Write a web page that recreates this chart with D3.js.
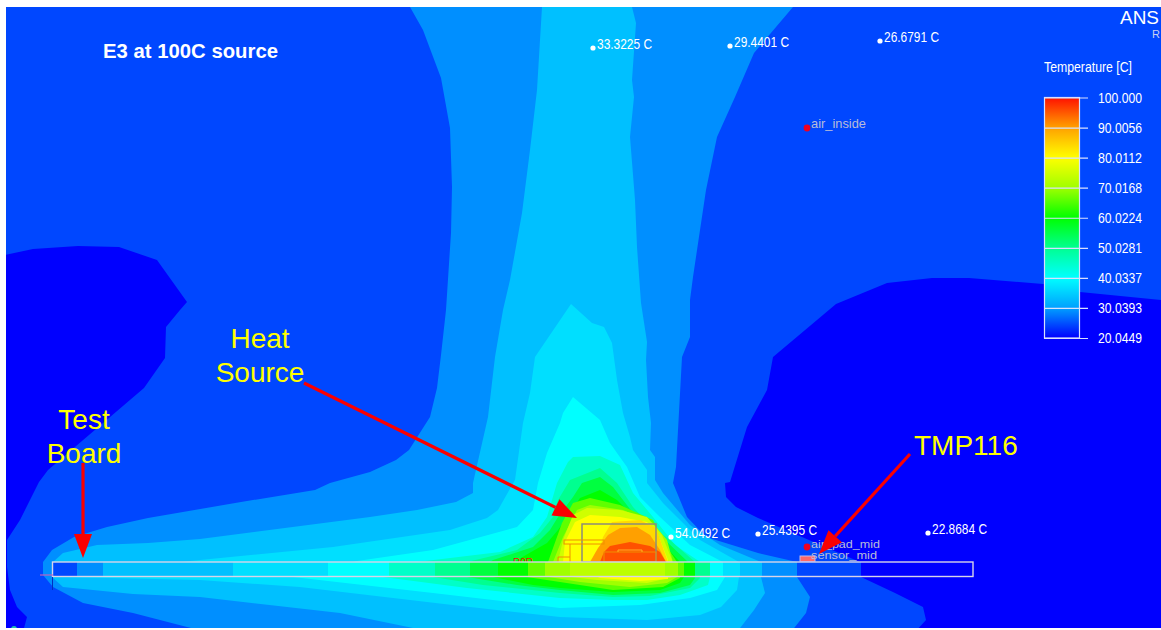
<!DOCTYPE html>
<html>
<head>
<meta charset="utf-8">
<script src="https://cdn.jsdelivr.net/npm/d3@7"></script>
<style>
  html, body { margin: 0; padding: 0; background: #fff; }
  svg { display: block; font-family: "Liberation Sans", Arial, sans-serif; }
</style>
</head>
<body>
<div id="chart"></div>
<script>
// legend
var legendValues = [100, 90.0056, 80.0112, 70.0168, 60.0224, 50.0281, 40.0337, 30.0393, 20.0449];
var legendLabels = ["100.000", "90.0056", "80.0112", "70.0168", "60.0224", "50.0281", "40.0337", "30.0393", "20.0449"];
var legendColours = ["#ff1000", "#ffa000", "#ffff00", "#a0ff00", "#00ff00", "#00ff90", "#00ffff", "#00a0ff", "#0000ff"];

// temperature of each filled contour, coldest first (the field is 20.0449 underneath)
var isoLevels = [24.5, 29, 33.4, 36.7, 40, 45, 50, 55.6, 60, 66, 70, 75, 80, 84, 90, 95.5];

// contour outlines, in section-plane units
var iso245 = [[0,0],[1161,0],[1161,300],[1080,292],[1043,284],[969,278],[932,278],[887,283],[836,304],[817,320],[773,357],[767,390],[747,427],[730,482],[725,483],[726,497],[736,507],[758,518],[802,537],[839,553],[860,562],[861,577],[895,593],[923,607],[926,620],[915,632],[23,632],[27,617],[17,607],[10,590],[7,567],[7,540],[20,520],[39,482],[48,470],[144,388],[165,358],[166,327],[180,310],[187,302],[157,260],[119,247],[78,246],[33,249],[0,256]];
var iso29 = [[408,0],[410,7],[423,30],[441,78],[450,128],[452,187],[451,233],[446,310],[441,355],[437,388],[430,417],[409,450],[396,460],[370,472],[330,483],[315,490],[241,502],[148,518],[107,527],[74,537],[52,550],[43,562],[43,575],[53,587],[83,603],[133,613],[187,627],[207,632],[791,632],[806,613],[810,597],[797,577],[797,562],[758,553],[706,537],[687,517],[673,483],[676,467],[682,357],[690,337],[690,300],[693,277],[706,190],[717,137],[735,97],[754,53],[793,7],[800,0]];
var iso334 = [[543,0],[542,7],[537,90],[530,150],[522,213],[510,280],[503,310],[495,357],[488,417],[473,483],[473,493],[456,502],[417,510],[370,517],[200,539],[148,543],[97,545],[63,553],[53,562],[52,577],[63,587],[133,594],[200,597],[340,613],[413,628],[440,632],[737,632],[754,610],[765,593],[761,577],[761,562],[720,545],[690,525],[663,493],[655,480],[655,457],[650,450],[651,423],[648,397],[646,360],[647,342],[641,303],[637,247],[635,200],[630,137],[634,97],[632,80],[636,23],[632,7],[632,0]];
var iso367 = [[571,304],[592,323],[604,327],[612,343],[617,380],[623,413],[630,437],[633,450],[647,470],[647,483],[663,503],[677,517],[700,540],[739,562],[739,577],[737,590],[721,607],[700,615],[647,620],[560,617],[444,604],[300,587],[200,580],[67,577],[190,561],[333,547],[450,530],[487,518],[498,510],[515,480],[523,423],[530,393],[535,357]];
var iso40 = [[573,397],[600,420],[610,443],[617,453],[627,467],[640,497],[660,517],[690,545],[723,562],[725,577],[717,590],[690,598],[640,605],[560,608],[433,593],[293,577],[357,561],[433,550],[517,527],[533,510],[538,483],[547,453],[560,423],[563,413]];
var iso45 = [[573,457],[600,456],[620,465],[633,493],[653,517],[675,545],[700,562],[710,577],[708,585],[680,595],[647,600],[613,600],[560,598],[467,588],[383,577],[417,562],[500,552],[533,537],[547,517],[557,483],[568,462]];
var iso50 = [[600,468],[617,483],[633,507],[650,525],[670,540],[695,562],[700,578],[690,588],[650,596],[613,597],[560,593],[483,585],[433,577],[467,562],[517,550],[540,533],[553,517],[558,500],[570,480]];
var iso556 = [[600,477],[613,487],[633,513],[640,520],[665,540],[688,562],[695,578],[690,585],[660,593],[613,595],[560,590],[517,585],[467,577],[493,560],[533,547],[550,530],[558,517],[573,497],[582,483]];
var iso60 = [[600,490],[617,500],[630,513],[655,535],[680,562],[684,577],[680,583],[660,590],[613,592],[560,588],[533,585],[493,577],[517,560],[547,543],[558,530],[565,520],[580,498]];
var iso66 = [[590,498],[620,505],[653,520],[667,547],[677,562],[680,578],[663,587],[613,590],[560,582],[527,577],[548,562],[562,523],[573,503]];
var iso70 = [[590,505],[623,510],[653,523],[667,540],[673,562],[677,577],[667,583],[630,587],[580,582],[543,576],[553,562],[563,537],[577,510]];
var iso75 = [[587,508],[620,510],[647,517],[662,535],[672,560],[673,577],[647,583],[597,580],[563,576],[558,562],[563,540],[573,515]];
var iso80 = [[590,515],[620,517],[647,522],[657,532],[668,560],[668,579],[640,581],[600,578],[563,562],[565,542],[575,522]];
var iso84 = [[612,522],[640,520],[656,528],[668,562],[596,562],[603,537]];
var iso90 = [[590,562],[598,548],[608,535],[620,528],[637,527],[650,535],[660,550],[666,562]];
var iso955 = [[600,562],[604,552],[610,546],[630,542],[650,546],[660,552],[666,562]];
var isotherms = [iso245, iso29, iso334, iso367, iso40, iso45, iso50, iso556, iso60, iso66, iso70, iso75, iso80, iso84, iso90, iso955];

// test board, cut into the temperature steps seen along it
var boardEdges = [52,77,103,233,328,389,435,470,498,528,545,570,665,678,684,695,710,723,740,762,797,861,973];
var boardTemps = [24.5,29,33.4,36.7,40,45,50,55.6,60,66,70,73,70,66,60,50,40,36.7,33.4,29,24.5,20.0449];

// monitor points
var probeX = [593, 730, 880, 671, 758, 928];
var probeY = [48, 46, 41, 537, 534, 533];
var probeLabels = ["33.3225 C", "29.4401 C", "26.6791 C", "54.0492 C", "25.4395 C", "22.8684 C"];
var monitorX = [807, 807];
var monitorY = [128, 547];

// hand-drawn callouts
var arrowFrom = [[304,383], [83,463], [910,454]];
var arrowTo = [[577,518], [83,558], [819,554]];

var width = 1161, height = 630;

var x = d3.scaleLinear().domain([0, 1161]).range([0, width]);
var y = d3.scaleLinear().domain([0, 630]).range([0, height]);
var colour = d3.scaleLinear().domain(legendValues).range(legendColours);

var svg = d3.select("#chart").append("svg")
  .attr("width", width)
  .attr("height", height);

svg.append("clipPath").attr("id", "frame")
  .append("rect")
  .attr("x", 6).attr("y", 7).attr("width", width - 6).attr("height", 621);

var g = svg.append("g").attr("clip-path", "url(#frame)");

g.append("rect")
  .attr("width", width).attr("height", height)
  .attr("fill", colour(20.0449));

var outline = d3.line()
  .x(function(d) { return x(d[0]); })
  .y(function(d) { return y(d[1]); });

g.selectAll(null)
  .data(isotherms)
  .enter().append("path")
  .attr("d", function(d) { return outline(d) + "Z"; })
  .attr("fill", function(d, i) { return colour(isoLevels[i]); });

// parts above the board
g.append("text").attr("x", 513).attr("y", 566)
  .attr("font-size", 10).attr("fill", "#f01000").text("R0R");

g.append("rect")
  .attr("x", x(582)).attr("y", y(524)).attr("width", x(74)).attr("height", y(38))
  .attr("fill", "none").attr("stroke", "#8c8c78").attr("stroke-width", 1.5);

var parts = g.append("g").attr("fill", "none").attr("stroke", "#f09000").attr("stroke-width", 1);
parts.append("rect").attr("x", 564).attr("y", 540).attr("width", 40).attr("height", 4);
parts.append("path").attr("d", "M570,544V557H558V562M570,557V562");
parts.append("rect").attr("x", 604).attr("y", 552).attr("width", 52).attr("height", 10);
parts.append("path").attr("d", "M618,552V550H642V552").attr("stroke", "#ffb020");

// board
g.selectAll(null)
  .data(boardTemps)
  .enter().append("rect")
  .attr("x", function(d, i) { return x(boardEdges[i]); })
  .attr("y", y(562))
  .attr("width", function(d, i) { return x(boardEdges[i + 1]) - x(boardEdges[i]); })
  .attr("height", y(15))
  .attr("fill", function(d) { return colour(d); });

g.append("rect")
  .attr("x", x(52.5)).attr("y", y(562)).attr("width", x(920.5)).attr("height", y(14.5))
  .attr("fill", "none").attr("stroke", "#d8d4e8").attr("stroke-width", 1.4);

g.append("line").attr("x1", 40).attr("x2", 53).attr("y1", 575).attr("y2", 575)
  .attr("stroke", "#c060c0").attr("stroke-width", 1.2);
g.append("line").attr("x1", 52.5).attr("x2", 52.5).attr("y1", 577).attr("y2", 590)
  .attr("stroke", "#0030c0").attr("stroke-width", 1);
g.append("circle").attr("cx", 14).attr("cy", 629).attr("r", 3).attr("fill", "#20c0b0");

// sensor
g.append("rect").attr("x", 800).attr("y", 556).attr("width", 15).attr("height", 5.5)
  .attr("fill", "#ff6868").attr("stroke", "#c8b8e8").attr("stroke-width", 1);

// white probes with their temperature
g.selectAll(null)
  .data(probeLabels)
  .enter().append("circle")
  .attr("cx", function(d, i) { return x(probeX[i]); })
  .attr("cy", function(d, i) { return y(probeY[i]); })
  .attr("r", 2.6)
  .attr("fill", "#fff");

g.selectAll(null)
  .data(probeLabels)
  .enter().append("text")
  .attr("x", function(d, i) { return x(probeX[i]) + 4; })
  .attr("y", function(d, i) { return y(probeY[i]) + 1; })
  .attr("font-size", 14.5)
  .attr("fill", "#fff")
  .attr("textLength", 55)
  .attr("lengthAdjust", "spacingAndGlyphs")
  .text(function(d) { return d; });

// red monitors
g.selectAll(null)
  .data(monitorX)
  .enter().append("circle")
  .attr("cx", function(d) { return x(d); })
  .attr("cy", function(d, i) { return y(monitorY[i]); })
  .attr("r", 3.4)
  .attr("fill", "#f00020");

function smallLabel(txt, px, py, len, size) {
  g.append("text").attr("x", px).attr("y", py)
    .attr("font-size", size).attr("fill", "#b8bcd8")
    .attr("textLength", len).attr("lengthAdjust", "spacingAndGlyphs")
    .text(txt);
}
smallLabel("air_inside", 811, 128, 55, 13.5);
smallLabel("air_pad_mid", 811, 548, 69, 11);
smallLabel("sensor_mid", 811, 559, 66, 11);

// headings
g.append("text").attr("x", 103).attr("y", 58)
  .attr("font-size", 21).attr("font-weight", "bold").attr("fill", "#fff")
  .attr("textLength", 175).attr("lengthAdjust", "spacingAndGlyphs")
  .text("E3 at 100C source");

g.append("text").attr("x", 1120).attr("y", 24)
  .attr("font-size", 19).attr("fill", "#fff")
  .attr("textLength", 39).attr("lengthAdjust", "spacingAndGlyphs")
  .text("ANS");
g.append("text").attr("x", 1152).attr("y", 38)
  .attr("font-size", 11).attr("fill", "#c8d0f0").text("R");

// temperature legend
g.append("text").attr("x", 1044).attr("y", 72)
  .attr("font-size", 14).attr("fill", "#fff")
  .attr("textLength", 88).attr("lengthAdjust", "spacingAndGlyphs")
  .text("Temperature [C]");

var legendY = d3.scaleLinear().domain([100, 20.0449]).range([97.5, 338]);

var grad = svg.append("linearGradient").attr("id", "tempgrad")
  .attr("x1", 0).attr("x2", 0).attr("y1", 0).attr("y2", 1);
grad.selectAll("stop")
  .data(legendValues)
  .enter().append("stop")
  .attr("offset", function(d) { return (legendY(d) - 97.5) / (338 - 97.5); })
  .attr("stop-color", function(d) { return colour(d); });

g.append("rect")
  .attr("x", 1044.5).attr("y", 97.5).attr("width", 35).attr("height", 240.5)
  .attr("fill", "url(#tempgrad)")
  .attr("stroke", "#d8e0ff").attr("stroke-width", 1.2);

var legendAxis = g.append("g")
  .attr("transform", "translate(1044,0)")
  .call(d3.axisRight(legendY)
    .tickValues(legendValues)
    .tickSize(44)
    .tickPadding(10)
    .tickFormat(function(d) { return legendLabels[legendValues.indexOf(d)]; }));

legendAxis.select(".domain").remove();
legendAxis.selectAll("line").attr("stroke", "#d8e0ff").attr("stroke-width", 1.2);
legendAxis.selectAll("text")
  .attr("fill", "#fff")
  .attr("font-family", "Liberation Sans")
  .attr("font-size", 14.5)
  .attr("textLength", 44)
  .attr("lengthAdjust", "spacingAndGlyphs");

// callout arrows
var arrowHeads = g.append("g");
arrowFrom.forEach(function(from, i) {
  var to = arrowTo[i],
      dx = to[0] - from[0],
      dy = to[1] - from[1],
      len = Math.sqrt(dx * dx + dy * dy),
      ux = dx / len, uy = dy / len,
      bx = to[0] - ux * 24, by = to[1] - uy * 24;

  arrowHeads.append("line")
    .attr("x1", x(from[0])).attr("y1", y(from[1]))
    .attr("x2", x(bx)).attr("y2", y(by))
    .attr("stroke", "#fa0000").attr("stroke-width", 3.2);

  arrowHeads.append("path")
    .attr("d", outline([to, [bx - uy * 9, by + ux * 9], [bx + uy * 9, by - ux * 9]]) + "Z")
    .attr("fill", "#fa0000");
});

function callout(txt, px, py, anchor) {
  g.append("text").attr("x", px).attr("y", py)
    .attr("text-anchor", anchor)
    .attr("font-size", 28).attr("fill", "#ffff00")
    .text(txt);
}
callout("Heat", 260, 348, "middle");
callout("Source", 260, 382, "middle");
callout("Test", 84, 429, "middle");
callout("Board", 84, 463, "middle");
callout("TMP116", 914, 455, "start");
</script>
</body>
</html>
